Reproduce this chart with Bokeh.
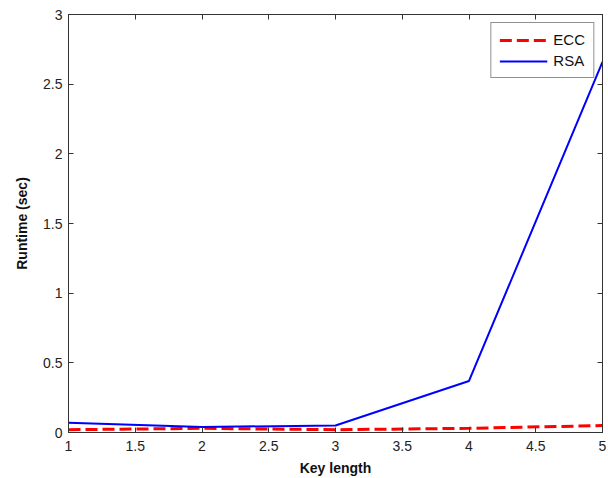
from bokeh.plotting import figure
from bokeh.models import LinearAxis, FixedTicker, Range1d, Legend, LegendItem
from bokeh.embed import file_html
from bokeh.resources import INLINE

key_length = [1, 2, 3, 4, 5]
ecc = [0.02, 0.03, 0.02, 0.03, 0.05]
rsa = [0.07, 0.04, 0.05, 0.37, 2.66]

x_ticks = [1, 1.5, 2, 2.5, 3, 3.5, 4, 4.5, 5]
y_ticks = [0, 0.5, 1, 1.5, 2, 2.5, 3]

FONT = "Liberation Sans"

p = figure(width=608, height=478, output_backend="svg", toolbar_location=None,
           x_range=Range1d(1, 5), y_range=Range1d(0, 3),
           min_border_left=68, min_border_right=6, min_border_top=14, min_border_bottom=45)
p.xgrid.visible = False
p.ygrid.visible = False
p.outline_line_color = "#333333"
p.outline_line_width = 1

r_ecc = p.line(key_length, ecc, line_color="#ff0000", line_width=3, line_dash="12 5")
r_rsa = p.line(key_length, rsa, line_color="#0000ff", line_width=2)

def style(ax):
    ax.major_tick_in = 5
    ax.major_tick_out = 0
    ax.minor_tick_in = 0
    ax.minor_tick_out = 0
    ax.axis_line_color = "#333333"
    ax.major_tick_line_color = "#333333"
    ax.major_label_text_font = FONT
    ax.major_label_text_font_size = "14px"
    ax.major_label_text_color = "#222222"
    ax.axis_label_text_font = FONT
    ax.axis_label_text_font_style = "bold"
    ax.axis_label_text_font_size = "14px"
    ax.axis_label_text_color = "#111111"

p.xaxis.ticker = FixedTicker(ticks=x_ticks)
p.yaxis.ticker = FixedTicker(ticks=y_ticks)
p.xaxis.major_label_overrides = {t: ("%g" % t) for t in x_ticks}
p.yaxis.major_label_overrides = {t: ("%g" % t) for t in y_ticks}
p.xaxis.axis_label = "Key length"
p.yaxis.axis_label = "Runtime (sec)"
style(p.xaxis[0])
style(p.yaxis[0])
p.xaxis.major_label_standoff = 8
p.xaxis.axis_label_standoff = 6
p.yaxis.major_label_standoff = 6
p.yaxis.axis_label_standoff = 10

top = LinearAxis(ticker=FixedTicker(ticks=x_ticks))
style(top)
top.major_label_overrides = {t: "" for t in x_ticks}
top.major_label_standoff = 0
p.add_layout(top, "above")
right = LinearAxis(ticker=FixedTicker(ticks=y_ticks))
style(right)
right.major_label_overrides = {t: "" for t in y_ticks}
right.major_label_standoff = 0
p.add_layout(right, "right")

legend = Legend(items=[LegendItem(label="ECC", renderers=[r_ecc]),
                       LegendItem(label="RSA", renderers=[r_rsa])],
                location="top_right")
legend.label_text_font = FONT
legend.label_text_font_size = "15px"
legend.label_text_color = "#111111"
legend.border_line_color = "#222222"
legend.border_line_width = 1
legend.glyph_width = 48
legend.glyph_height = 16
legend.label_height = 16
legend.spacing = 4
legend.padding = 8
legend.margin = 8
legend.label_standoff = 6
p.add_layout(legend, "center")

open("out.html", "w").write(file_html(p, INLINE))
